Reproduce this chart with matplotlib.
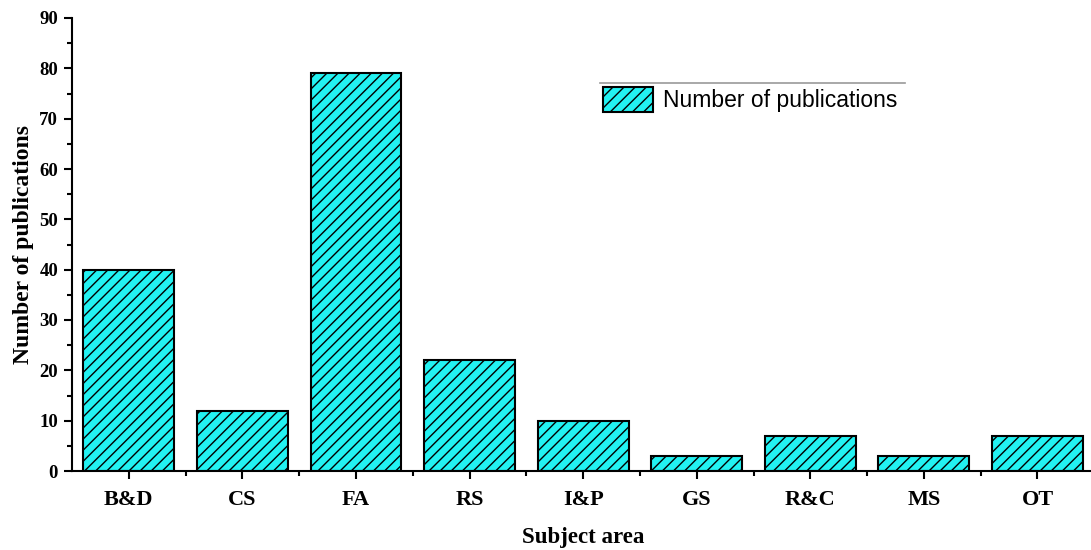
import matplotlib
matplotlib.use("Agg")
import matplotlib.pyplot as plt
from matplotlib.ticker import MultipleLocator, FixedLocator
from matplotlib.lines import Line2D

categories = ["B&D", "CS", "FA", "RS", "I&P", "GS", "R&C", "MS", "OT"]
values = [40, 12, 79, 22, 10, 3, 7, 3, 7]
series_name = "Number of publications"

plt.rcParams['hatch.linewidth'] = 1.0
plt.rcParams['hatch.color'] = 'black'

fig = plt.figure(figsize=(10.91, 5.5), dpi=100)
ax = fig.add_axes([72/1091, 79/550, 1.0 - 72/1091 + 0.003, (471-18)/550])

x = list(range(len(categories)))
bars = ax.bar(x, values, width=0.8, color='#22F2F2', edgecolor='black',
              linewidth=1.5, hatch='///', label=series_name, zorder=2)

ax.set_xlim(-0.5, 8.5)
ax.set_ylim(0, 90)
ax.yaxis.set_major_locator(MultipleLocator(10))
ax.yaxis.set_minor_locator(MultipleLocator(5))
ax.set_xticks(x)
ax.set_xticklabels(categories)
ax.xaxis.set_minor_locator(FixedLocator([i + 0.5 for i in range(len(categories))]))

for s in ['top', 'right']:
    ax.spines[s].set_visible(False)
for s in ['left', 'bottom']:
    ax.spines[s].set_linewidth(1.5)

ax.tick_params(axis='both', which='major', direction='out', length=6, width=1.5)
ax.tick_params(axis='both', which='minor', direction='out', length=3.5, width=1.5)
ax.tick_params(axis='y', which='major', labelsize=13.5, pad=4)
ax.tick_params(axis='x', which='major', labelsize=16, pad=8)

for lab in ax.get_yticklabels() + ax.get_xticklabels():
    lab.set_fontfamily('Liberation Serif')
    lab.set_fontweight('bold')

ax.set_ylabel("Number of publications", fontfamily='Liberation Serif',
              fontweight='bold', fontsize=17, labelpad=4)
ax.set_xlabel("Subject area", fontfamily='Liberation Serif',
              fontweight='bold', fontsize=16.5, labelpad=12)

leg = ax.legend(loc='upper left', frameon=False,
                prop={'family': 'Liberation Sans', 'size': 16.5},
                handlelength=2.2, handleheight=1.3, handletextpad=0.4,
                borderaxespad=0, borderpad=0)
leg.set_bbox_to_anchor((603/1091, 1 - 87/550), transform=fig.transFigure)

fig.add_artist(Line2D([600/1091, 905/1091], [1 - 83/550, 1 - 83/550],
                      transform=fig.transFigure, color='#999999', linewidth=1.2))

fig.savefig("out.png", dpi=100)
